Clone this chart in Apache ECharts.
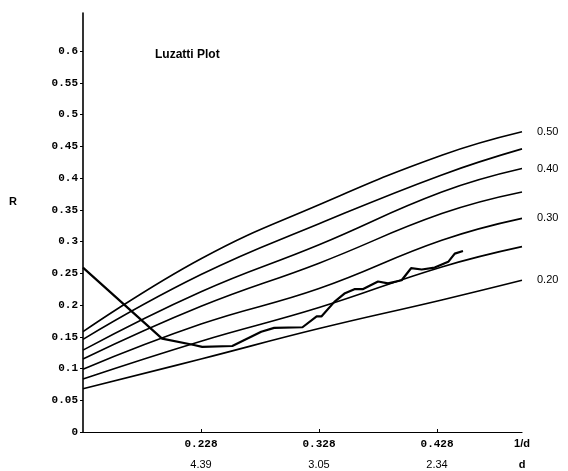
<!DOCTYPE html>
<html>
<head>
<meta charset="utf-8">
<script src="https://cdn.jsdelivr.net/npm/echarts@6/dist/echarts.min.js"></script>
<style>
  html, body { margin: 0; padding: 0; background: #fff; }
  #chart { width: 568px; height: 471px; }
</style>
</head>
<body>
<div id="chart"></div>
<script>
const invD = [0.128, 0.228, 0.328, 0.432, 0.5]

// Luzzati curves, top to bottom (error 0.50 ... 0.20)
const curve50 = [0.158, 0.273, 0.358, 0.436, 0.473]
const curve45 = [0.146, 0.248, 0.328, 0.405, 0.446]
const curve40 = [0.129, 0.221, 0.295, 0.378, 0.415]
const curve35 = [0.115, 0.198, 0.266, 0.344, 0.378]
const curve30 = [0.099, 0.170, 0.226, 0.302, 0.3365]
const curve25 = [0.0835, 0.143, 0.196, 0.260, 0.292]
const curve20 = [0.068, 0.115, 0.163, 0.208, 0.239]
const curveLabels = ['0.50', '', '0.40', '', '0.30', '', '0.20']

// observed R against 1/d
const obsX = [0.128, 0.195, 0.222, 0.229, 0.2545, 0.279, 0.290, 0.314, 0.326, 0.330, 0.341, 0.3495,
  0.358, 0.365, 0.378, 0.3865, 0.398, 0.406, 0.415, 0.426, 0.4375, 0.443, 0.450]
const obsR = [0.259, 0.147, 0.137, 0.134, 0.1355, 0.158, 0.164, 0.165, 0.182, 0.182, 0.205, 0.218,
  0.225, 0.225, 0.237, 0.234, 0.239, 0.258, 0.256, 0.259, 0.268, 0.281, 0.285]

const xTicks = [0.228, 0.328, 0.428]
const dLabels = ['4.39', '3.05', '2.34']
const yTicks = [0, 0.05, 0.1, 0.15, 0.2, 0.25, 0.3, 0.35, 0.4, 0.45, 0.5, 0.55, 0.6]

const curves = [curve50, curve45, curve40, curve35, curve30, curve25, curve20]
const mono = '"Liberation Mono", "DejaVu Sans Mono", monospace'
const sans = 'Arial, "Liberation Sans"'

let series = curves.map((c, i) => ({
  type: 'line',
  data: c.map((v, j) => [invD[j], v]),
  smooth: 0.45,
  symbol: 'none',
  lineStyle: { color: '#000', width: 1.6 },
  endLabel: {
    show: curveLabels[i] !== '',
    formatter: curveLabels[i],
    distance: 15,
    color: '#000',
    fontFamily: sans,
    fontSize: 11
  },
  silent: true
}))
series.push({
  type: 'line',
  data: obsX.map((x, i) => [x, obsR[i]]),
  symbol: 'none',
  lineStyle: { color: '#000', width: 2.2 },
  silent: true
})

let myChart = echarts.init(document.getElementById('chart'))
myChart.setOption({
  animation: false,
  title: {
    text: 'Luzatti Plot',
    left: 150,
    top: 44,
    textStyle: { fontFamily: sans, fontWeight: 'bold', fontSize: 12, color: '#000' }
  },
  grid: { left: 83, right: 46, top: 13, bottom: 39, containLabel: false, outerBoundsMode: 'none' },
  xAxis: {
    type: 'value',
    min: 0.128,
    max: 0.5,
    splitLine: { show: false },
    axisLine: { lineStyle: { color: '#000', width: 1.2 } },
    axisTick: { customValues: xTicks, inside: true, length: 3, lineStyle: { color: '#000' } },
    axisLabel: {
      customValues: xTicks.concat([0.5]),
      margin: 4,
      formatter: v => {
        let i = xTicks.findIndex(t => Math.abs(t - v) < 1e-6)
        if (i < 0) return '{c|1/d}\n{d|d}'
        return '{a|' + xTicks[i].toFixed(3) + '}\n{b|' + dLabels[i] + '}'
      },
      rich: {
        a: { fontFamily: mono, fontWeight: 'bold', fontSize: 11, color: '#000', lineHeight: 16 },
        b: { fontFamily: sans, fontSize: 11, color: '#000', lineHeight: 26 },
        c: { fontFamily: sans, fontWeight: 'bold', fontSize: 11, color: '#000', lineHeight: 16 },
        d: { fontFamily: sans, fontWeight: 'bold', fontSize: 11, color: '#000', lineHeight: 26 }
      }
    }
  },
  yAxis: {
    type: 'value',
    min: 0,
    max: 0.66,
    splitLine: { show: false },
    axisLine: { show: true, lineStyle: { color: '#000', width: 1.6 } },
    axisTick: { show: true, customValues: yTicks, length: 3, lineStyle: { color: '#000' } },
    axisLabel: {
      customValues: yTicks,
      margin: 5,
      formatter: v => String(+v.toFixed(2)),
      fontFamily: mono,
      fontWeight: 'bold',
      fontSize: 11,
      color: '#000'
    }
  },
  graphic: [{
    type: 'text',
    left: 9,
    top: 196,
    style: { text: 'R', fontFamily: sans, fontWeight: 'bold', fontSize: 11, fill: '#000' }
  }],
  series: series
})
</script>
</body>
</html>
